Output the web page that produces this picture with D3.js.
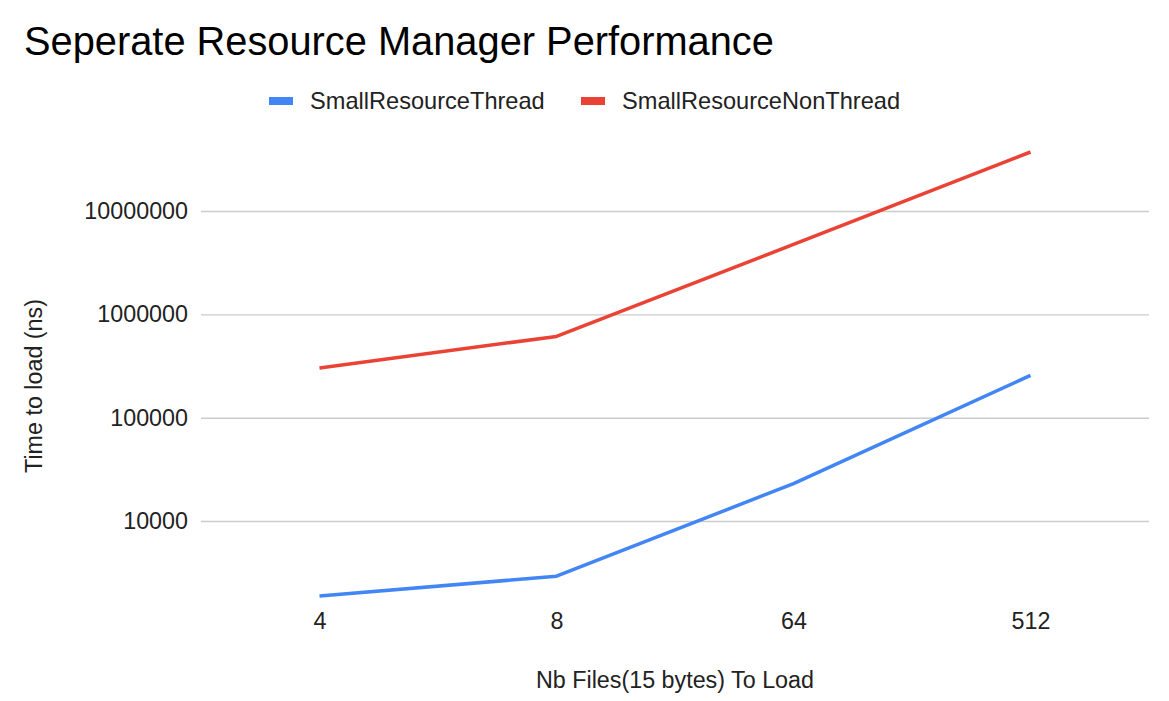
<!DOCTYPE html>
<html>
<head>
<meta charset="utf-8">
<script src="https://cdn.jsdelivr.net/npm/d3@7"></script>
<style>
  body { margin: 0; background: #fff; }
  text { font-family: "Liberation Sans", Arial, sans-serif; }
</style>
</head>
<body>
<div id="chart"></div>
<script>
// ---- data
var categories = ["4", "8", "64", "512"];
var threadTimes = [1880, 2920, 23000, 257000];
var nonThreadTimes = [303000, 612000, 4750000, 37300000];
var seriesNames = ["SmallResourceThread", "SmallResourceNonThread"];
var seriesColors = ["#4285F4", "#EA4335"];
var yTickValues = [10000, 100000, 1000000, 10000000];

var width = 1169, height = 701;
var plot = {left: 201, right: 1149, top: 152, bottom: 596};

var svg = d3.select("#chart")
    .append("svg")
      .attr("width", width)
      .attr("height", height);

var x = d3.scalePoint()
    .domain(categories)
    .range([plot.left, plot.right])
    .padding(0.5);

var allVals = threadTimes.concat(nonThreadTimes);
var y = d3.scaleLog()
    .domain(d3.extent(allVals))
    .range([plot.bottom, plot.top]);

// title
svg.append("text")
    .attr("x", 24)
    .attr("y", 55)
    .attr("font-size", 39.8)
    .attr("fill", "#000")
    .text("Seperate Resource Manager Performance");

// legend
var legendX = [269, 581];
seriesNames.forEach(function(name, i) {
  svg.append("rect")
      .attr("x", legendX[i]).attr("y", 97)
      .attr("width", 24).attr("height", 8)
      .attr("fill", seriesColors[i]);
  svg.append("text")
      .attr("x", legendX[i] + 41).attr("y", 109)
      .attr("font-size", 23.6)
      .attr("fill", "#222")
      .text(name);
});

// gridlines + y labels
var yAxis = d3.axisLeft(y)
    .tickValues(yTickValues)
    .tickFormat(d3.format("d"))
    .tickSize(-(plot.right - plot.left))
    .tickPadding(13);

var gy = svg.append("g")
    .attr("transform", "translate(" + plot.left + ",0)")
    .call(yAxis);
gy.select(".domain").remove();
gy.selectAll(".tick line").attr("stroke", "#cccccc").attr("stroke-width", 1.4);
gy.selectAll(".tick text")
    .attr("font-size", 23.3)
    .attr("fill", "#222")
    .attr("font-family", "Liberation Sans, Arial, sans-serif");

// x labels
var xAxis = d3.axisBottom(x).tickSize(0).tickPadding(0);
var gx = svg.append("g")
    .attr("transform", "translate(0,612)")
    .call(xAxis);
gx.select(".domain").remove();
gx.selectAll(".tick text")
    .attr("font-size", 23.3)
    .attr("fill", "#222")
    .attr("font-family", "Liberation Sans, Arial, sans-serif");

// axis titles
svg.append("text")
    .attr("x", (plot.left + plot.right) / 2)
    .attr("y", 688)
    .attr("text-anchor", "middle")
    .attr("font-size", 23.3)
    .attr("fill", "#222")
    .text("Nb Files(15 bytes) To Load");

svg.append("text")
    .attr("transform", "translate(42," + 386 + ") rotate(-90)")
    .attr("text-anchor", "middle")
    .attr("font-size", 23.3)
    .attr("fill", "#222")
    .text("Time to load (ns)");

// lines
var line = d3.line()
    .x(function(d, i) { return x(categories[i]); })
    .y(function(d) { return y(d); });

[threadTimes, nonThreadTimes].forEach(function(vals, i) {
  svg.append("path")
      .datum(vals)
      .attr("d", line)
      .attr("fill", "none")
      .attr("stroke", seriesColors[i])
      .attr("stroke-width", 3.5)
      .attr("stroke-linejoin", "round");
});
</script>
</body>
</html>
